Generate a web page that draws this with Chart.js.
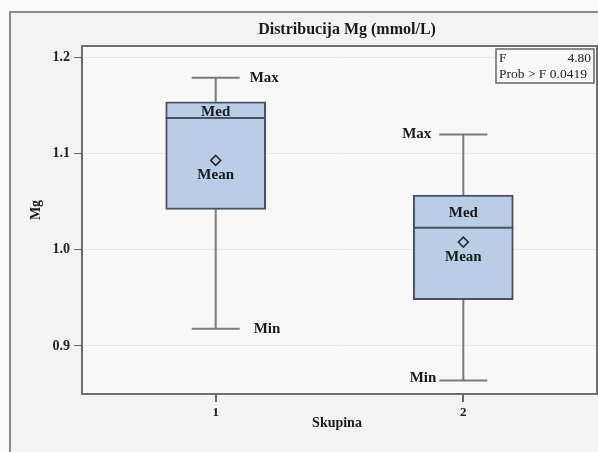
<!DOCTYPE html>
<html>
<head>
<meta charset="utf-8">
<script src="https://cdn.jsdelivr.net/npm/chart.js@4.4.0/dist/chart.umd.min.js"></script>
<style>
html, body { margin: 0; padding: 0; background: #fafafa; }
</style>
</head>
<body>
<canvas id="boxChart" width="598" height="452"></canvas>
<script>
// podatki
var groups = [1, 2];
var groupLabels = ['1', '2'];
var minValues = [0.918, 0.864];
var q1Values = [1.042, 0.948];
var medianValues = [1.137, 1.023];
var q3Values = [1.154, 1.057];
var maxValues = [1.179, 1.120];
var meanValues = [1.093, 1.008];
var yTicks = [0.9, 1.0, 1.1, 1.2];
var labelSide = ['right', 'left'];
var statF = '4.80';
var statProb = '0.0419';

var serif = '"Liberation Serif", "Times New Roman", serif';

var boxPlugin = {
    id: 'boxPlugin',
    beforeDraw: function (chart) {
        var ctx = chart.ctx, a = chart.chartArea;
        ctx.save();
        ctx.fillStyle = '#fafafa';
        ctx.fillRect(0, 0, chart.width, chart.height);
        ctx.fillStyle = '#f3f3f3';
        ctx.fillRect(10, 12, chart.width, chart.height);
        ctx.strokeStyle = '#8a8a8a';
        ctx.lineWidth = 2;
        ctx.strokeRect(10, 12, chart.width + 10, chart.height + 10);
        ctx.fillStyle = '#f8f8f8';
        ctx.fillRect(a.left, a.top, a.right - a.left, a.bottom - a.top);
        ctx.restore();
    },
    beforeDatasetsDraw: function (chart) {
        var ctx = chart.ctx, x = chart.scales.x, y = chart.scales.y;
        ctx.save();
        ctx.strokeStyle = '#7a7a7a';
        ctx.lineWidth = 2;
        groups.forEach(function (g, i) {
            var px = x.getPixelForValue(g);
            ctx.beginPath();
            ctx.moveTo(px, y.getPixelForValue(maxValues[i]));
            ctx.lineTo(px, y.getPixelForValue(q3Values[i]));
            ctx.moveTo(px, y.getPixelForValue(q1Values[i]));
            ctx.lineTo(px, y.getPixelForValue(minValues[i]));
            [maxValues[i], minValues[i]].forEach(function (v) {
                var py = y.getPixelForValue(v);
                ctx.moveTo(px - 24, py);
                ctx.lineTo(px + 24, py);
            });
            ctx.stroke();
        });
        ctx.restore();
    },
    afterDatasetsDraw: function (chart) {
        var ctx = chart.ctx, x = chart.scales.x, y = chart.scales.y, a = chart.chartArea;
        var bars = chart.getDatasetMeta(0).data;
        ctx.save();
        ctx.strokeStyle = '#4a5260';
        ctx.lineWidth = 2;
        ctx.fillStyle = '#1a1a1a';
        ctx.font = 'bold 15px ' + serif;
        ctx.textBaseline = 'middle';
        groups.forEach(function (g, i) {
            var px = x.getPixelForValue(g);
            var half = bars[i].width / 2;
            var pMed = y.getPixelForValue(medianValues[i]);
            ctx.beginPath();
            ctx.moveTo(px - half, pMed);
            ctx.lineTo(px + half, pMed);
            ctx.stroke();

            ctx.textAlign = 'center';
            var pQ3 = y.getPixelForValue(q3Values[i]);
            ctx.fillText('Med', px, (pQ3 + pMed) / 2 + 2);
            ctx.fillText('Mean', px, y.getPixelForValue(meanValues[i]) + 15);

            var pMax = y.getPixelForValue(maxValues[i]);
            var pMin = Math.min(y.getPixelForValue(minValues[i]), a.bottom - 16);
            if (labelSide[i] === 'right') {
                ctx.textAlign = 'left';
                ctx.fillText('Max', px + 34, pMax);
                ctx.fillText('Min', px + 38, pMin);
            } else {
                ctx.textAlign = 'right';
                ctx.fillText('Max', px - 32, pMax);
                ctx.fillText('Min', px - 27, pMin);
            }
        });
        ctx.restore();
    },
    afterDraw: function (chart) {
        var ctx = chart.ctx, a = chart.chartArea;
        ctx.save();
        ctx.strokeStyle = '#6e6e6e';
        ctx.lineWidth = 2;
        ctx.strokeRect(a.left, a.top, a.right - a.left, a.bottom - a.top);

        ctx.fillStyle = '#1a1a1a';
        ctx.textAlign = 'center';
        ctx.textBaseline = 'middle';
        ctx.font = 'bold 16px ' + serif;
        ctx.fillText('Distribucija Mg (mmol/L)', 347, 30);

        ctx.font = 'bold 14px ' + serif;
        ctx.fillText('Skupina', 337, 423);
        ctx.translate(36, 210);
        ctx.rotate(-Math.PI / 2);
        ctx.fillText('Mg', 0, 0);
        ctx.setTransform(1, 0, 0, 1, 0, 0);

        // okvir s statistiko
        ctx.strokeStyle = '#666';
        ctx.lineWidth = 1.5;
        ctx.fillStyle = '#f8f8f8';
        ctx.fillRect(496, 49, 98, 34);
        ctx.strokeRect(496, 49, 98, 34);
        ctx.fillStyle = '#222';
        ctx.font = '13.5px ' + serif;
        ctx.textAlign = 'left';
        ctx.fillText('F', 499, 58);
        ctx.fillText('Prob > F ' + statProb, 499, 74);
        ctx.textAlign = 'right';
        ctx.fillText(statF, 591, 58);
        ctx.restore();
    }
};

var ctxBox = document.getElementById('boxChart').getContext('2d');
var boxChart = new Chart(ctxBox, {
    type: 'bar',
    data: {
        datasets: [{
            type: 'bar',
            data: groups.map(function (g, i) { return { x: g, y: [q1Values[i], q3Values[i]] }; }),
            backgroundColor: '#b9cde5',
            borderColor: '#4a5260',
            borderWidth: 2,
            borderSkipped: false,
            barThickness: 100,
            order: 2
        }, {
            type: 'scatter',
            data: groups.map(function (g, i) { return { x: g, y: meanValues[i] }; }),
            pointStyle: 'rectRot',
            pointRadius: 5,
            backgroundColor: '#b9cde5',
            borderColor: '#2a2a2a',
            borderWidth: 1.5,
            order: 1
        }]
    },
    options: {
        responsive: false,
        animation: false,
        layout: { autoPadding: false, padding: { left: 0, top: 46, right: 1, bottom: 0 } },
        plugins: {
            legend: { display: false },
            tooltip: { enabled: false }
        },
        scales: {
            x: {
                type: 'linear',
                min: 0.46,
                max: 2.54,
                offset: false,
                afterBuildTicks: function (s) { s.ticks = groups.map(function (v) { return { value: v }; }); },
                afterFit: function (s) { s.height = 58; s.paddingLeft = 0; s.paddingRight = 0; },
                ticks: {
                    callback: function (v) { return groupLabels[groups.indexOf(v)]; },
                    font: { family: serif, size: 13, weight: 'bold' },
                    color: '#222',
                    padding: 3,
                    maxRotation: 0,
                    autoSkip: false
                },
                grid: { offset: false, drawOnChartArea: false, tickLength: 8, tickColor: '#666', lineWidth: 2 },
                border: { display: false }
            },
            y: {
                min: 0.85,
                max: 1.212,
                afterBuildTicks: function (s) { s.ticks = yTicks.map(function (v) { return { value: v }; }); },
                afterFit: function (s) { s.width = 82; s.paddingTop = 0; s.paddingBottom = 0; },
                ticks: {
                    callback: function (v) { return v.toFixed(1); },
                    font: { family: serif, size: 14, weight: 'bold' },
                    color: '#222',
                    padding: 4
                },
                grid: { color: '#e8e8e8', tickColor: '#666', tickLength: 8, lineWidth: 1 },
                border: { display: false }
            }
        }
    },
    plugins: [boxPlugin]
});
</script>
</body>
</html>
